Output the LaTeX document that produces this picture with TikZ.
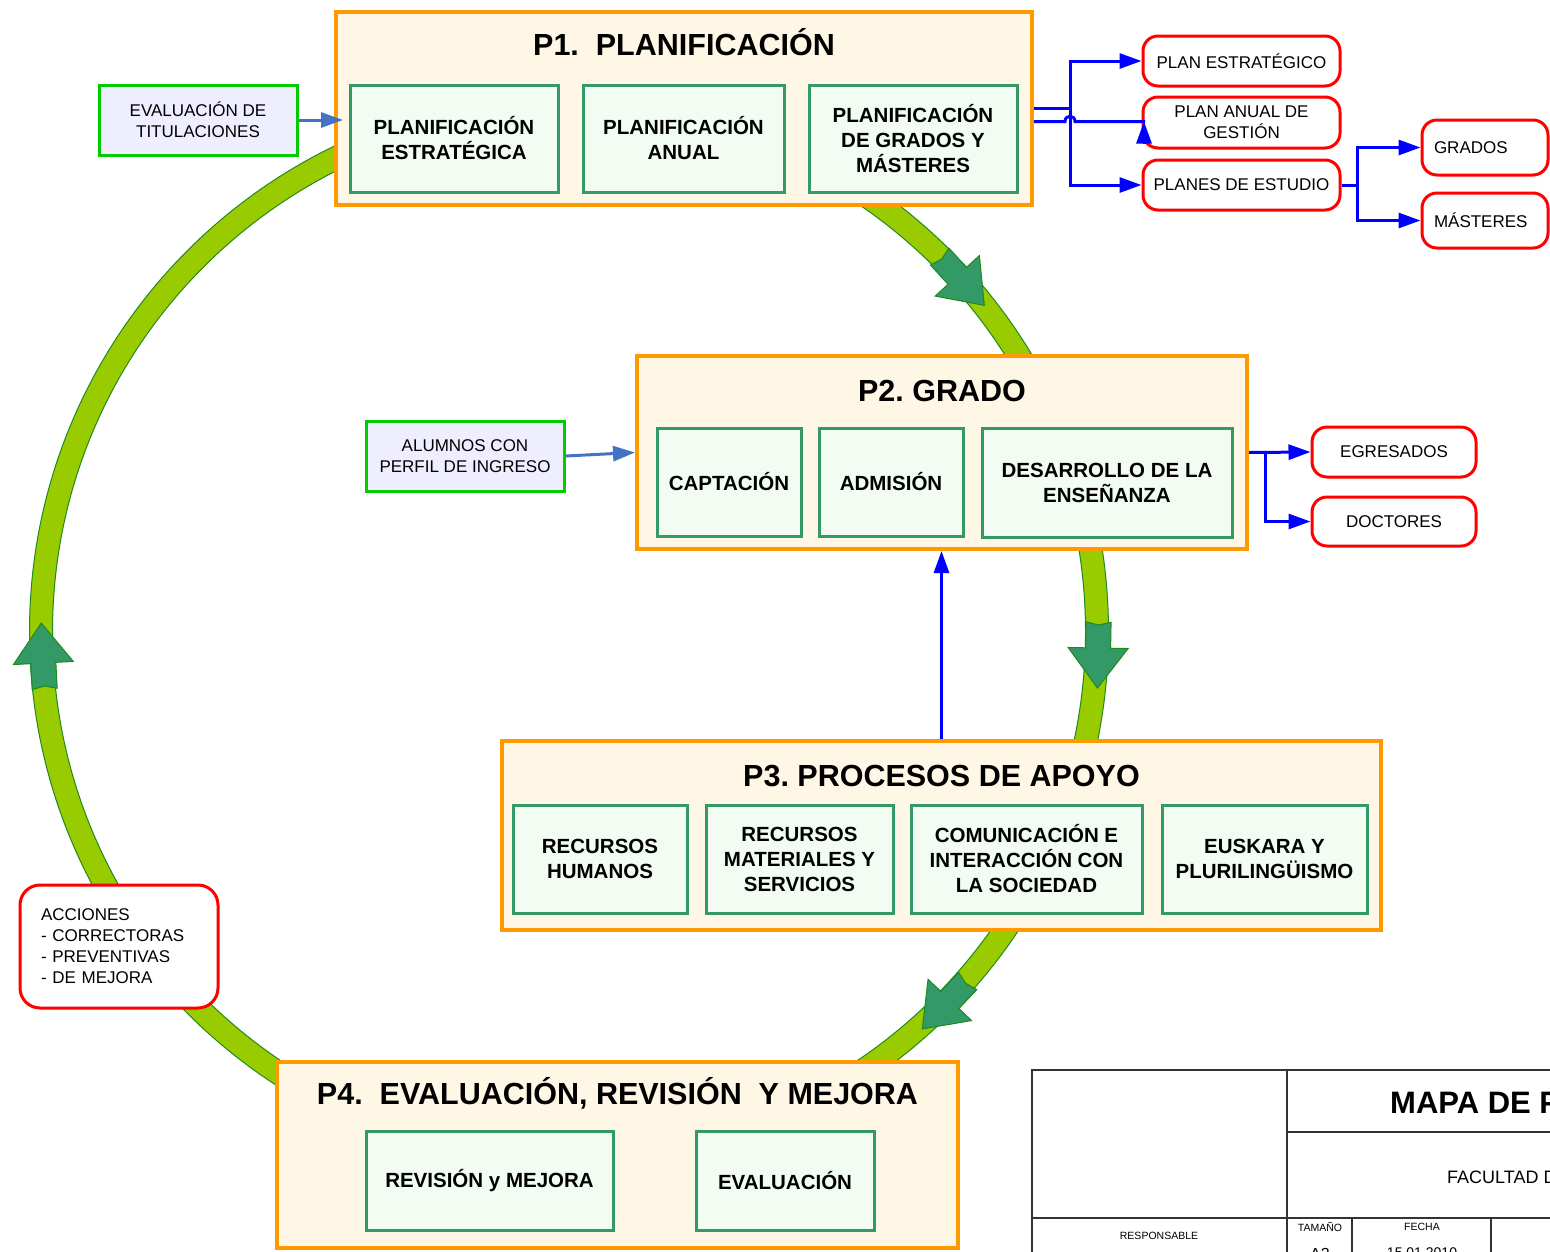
\documentclass[tikz,border=0pt]{standalone}
\usepackage{fontspec}
\setmainfont{Liberation Sans}
\usetikzlibrary{arrows.meta}
\AtBeginDocument{\frenchspacing}
\definecolor{orng}{HTML}{FF9900}
\definecolor{cream}{HTML}{FFF7E6}
\definecolor{subgreen}{HTML}{339966}
\definecolor{subfill}{HTML}{F3FCF3}
\definecolor{ringfill}{HTML}{99CC00}
\definecolor{ringline}{HTML}{1E8A1E}
\definecolor{arrfill}{HTML}{339966}
\definecolor{lav}{HTML}{EEEEFF}
\definecolor{inpgreen}{HTML}{00CC00}
\definecolor{softblue}{HTML}{4472C4}
\definecolor{pureblue}{HTML}{0000FF}
\definecolor{purered}{HTML}{FF0000}
\definecolor{tbline}{HTML}{333333}
\newcommand\ftitle{\fontsize{30.5}{36}\selectfont\bfseries}
\newcommand\finner{\fontsize{20.5}{25}\selectfont\bfseries}
\newcommand\fsmall{\fontsize{17}{21}\selectfont}
\tikzset{
  proc/.style={draw=orng, line width=4pt, fill=cream, inner sep=0pt},
  sub/.style={draw=subgreen, line width=3pt, fill=subfill, align=center, font=\finner, inner sep=0pt},
  inp/.style={draw=inpgreen, line width=3pt, fill=lav, align=center, font=\fsmall, inner sep=0pt},
  outb/.style={draw=purered, line width=3pt, fill=white, rounded corners=15pt, align=center, font=\fsmall, inner sep=0pt},
  ptitle/.style={font=\ftitle, inner sep=0pt},
  bl/.style={draw=pureblue, line width=3pt},
  blarrow/.style={bl, -{Triangle[length=22pt,width=15pt]}},
  sbarrow/.style={draw=softblue, line width=3pt, -{Triangle[length=22pt,width=15pt]}},
  tbl/.style={draw=tbline, line width=1.5pt},
  ringarr/.pic={
    \draw[draw=ringline, line width=1pt, fill=arrfill, line join=miter]
      (-33,-12.5) -- (-30,0) -- (-33,12.5) -- (-7,12.5) -- (-7,30) -- (33,0)
      -- (-7,-30) -- (-7,-12.5) -- cycle;
  }
}
\begin{document}
\begin{tikzpicture}[x=1pt, y=-1pt]
\useasboundingbox (0,0) rectangle (1550,1251);
\clip (0,0) rectangle (1550,1251);
\fill[white] (0,0) rectangle (1550,1251);

% ring
\draw[draw=ringline, line width=1pt, fill=ringfill, even odd rule]
  (569,632) circle[radius=539.5pt] (569,632) circle[radius=516.5pt];
\pic[rotate=-47.5] at (962,281) {ringarr};
\pic[rotate=-91] at (1098,655) {ringarr};
\pic[rotate=-133.5] at (945,1005) {ringarr};
\pic[rotate=-267] at (43,656) {ringarr};

% P1
\node[proc, minimum width=696pt, minimum height=193pt] (p1) at (684,108.5) {};
\node[ptitle] (p1t) at (684,42) {P1.\ \ PLANIFICACIÓN};
\node[sub, minimum width=208pt, minimum height=107pt] (pe) at (454,138.5) {PLANIFICACIÓN\\ESTRATÉGICA};
\node[sub, minimum width=201pt, minimum height=107pt] (pa) at (683.5,138.5) {PLANIFICACIÓN\\ANUAL};
\node[sub, minimum width=208pt, minimum height=107pt] (pg) at (913,138.5) {PLANIFICACIÓN\\DE GRADOS Y\\MÁSTERES};
\node[inp, minimum width=198pt, minimum height=70pt] (evt) at (198,120) {EVALUACIÓN DE\\TITULACIONES};

% outputs of P1
\node[outb, minimum width=197pt, minimum height=50pt] (oest) at (1241.5,61) {PLAN ESTRATÉGICO};
\node[outb, minimum width=197pt, minimum height=51pt] (oanu) at (1241.5,122.5) {PLAN ANUAL DE\\GESTIÓN};
\node[outb, minimum width=197pt, minimum height=50pt] (odes) at (1241.5,185) {PLANES DE ESTUDIO};
\node[outb, minimum width=126pt, minimum height=55pt, text width=102pt, align=left] (ogra) at (1485,147.5) {GRADOS};
\node[outb, minimum width=126pt, minimum height=55pt, text width=102pt, align=left] (omas) at (1485,220.5) {MÁSTERES};

% P2
\node[proc, minimum width=610pt, minimum height=193pt] (p2) at (942,452.5) {};
\node[ptitle] (p2t) at (942,391) {P2. GRADO};
\node[sub, minimum width=144pt, minimum height=108pt] (cap) at (729,482) {CAPTACIÓN};
\node[sub, minimum width=144pt, minimum height=108pt] (adm) at (891,482) {ADMISIÓN};
\node[sub, minimum width=250pt, minimum height=109pt] (des) at (1107,482.5) {DESARROLLO DE LA\\ENSEÑANZA};
\node[inp, minimum width=198pt, minimum height=70pt] (alu) at (465,456) {ALUMNOS CON\\PERFIL DE INGRESO};
\node[outb, minimum width=164pt, minimum height=50pt] (oegr) at (1394,452) {EGRESADOS};
\node[outb, minimum width=164pt, minimum height=49pt] (odoc) at (1394,521.5) {DOCTORES};

% P3
\node[proc, minimum width=879pt, minimum height=189pt] (p3) at (941.5,835.5) {};
\node[ptitle] (p3t) at (941.5,776) {P3. PROCESOS DE APOYO};
\node[sub, minimum width=174pt, minimum height=108pt] (rh) at (600,859) {RECURSOS\\HUMANOS};
\node[sub, minimum width=187pt, minimum height=108pt] (rm) at (799.5,859) {RECURSOS\\MATERIALES Y\\SERVICIOS};
\node[sub, minimum width=231pt, minimum height=108pt] (com) at (1026.5,859) {COMUNICACIÓN E\\INTERACCIÓN CON\\LA SOCIEDAD};
\node[sub, minimum width=205pt, minimum height=108pt] (eus) at (1264.5,859) {EUSKARA Y\\PLURILINGÜISMO};

% P4
\node[proc, minimum width=681pt, minimum height=186pt] (p4) at (617.5,1155) {};
\node[ptitle] (p4t) at (617.5,1093) {P4.\ \ EVALUACIÓN, REVISIÓN\ \ Y MEJORA};
\node[sub, minimum width=247pt, minimum height=99pt] (rev) at (489.5,1180.5) {REVISIÓN y MEJORA};
\node[sub, minimum width=178pt, minimum height=99pt] (eva) at (785,1180.5) {EVALUACIÓN};

% acciones
\node[outb, rounded corners=20pt, minimum width=198pt, minimum height=123pt, text width=156pt, align=left] (acc) at (119,946.5)
  {ACCIONES\\- CORRECTORAS\\- PREVENTIVAS\\- DE MEJORA};

% connectors
\draw[sbarrow] (evt.east) -- ([xshift=9pt]p1.west |- evt.east);
\draw[sbarrow] (alu.east) -- (p2.west);
\coordinate (j1) at (1070,108.5);
\draw[bl] (p1.east) -- (j1);
\draw[blarrow] (j1) |- (oest.west);
\draw[blarrow] (j1) |- (odes.west);
\draw[bl] ([yshift=-13pt]p1.east) -- (1065,121.5) .. controls (1065,114.5) and (1075,114.5) .. (1075,121.5) -- (1145,121.5);
\draw[blarrow] (1144,143.5) -- (1144,121.5);
\coordinate (j2) at (1357,185);
\draw[bl] (odes.east) -- (j2);
\draw[blarrow] (j2) |- (ogra.west);
\draw[blarrow] (j2) |- (omas.west);
\coordinate (j3) at (1265,452.5);
\draw[blarrow] (p2.east) -- (oegr.west);
\draw[blarrow] (j3) |- (odoc.west);
\draw[blarrow] (p3.north) -- (p3.north |- p2.south);

% title block
\draw[tbl] (1032,1270) -- (1032,1070) -- (1560,1070);
\draw[tbl] (1287,1070) -- (1287,1270);
\draw[tbl] (1287,1132) -- (1560,1132);
\draw[tbl] (1032,1218) -- (1560,1218);
\draw[tbl] (1352,1218) -- (1352,1270);
\draw[tbl] (1491,1218) -- (1491,1270);
\node[anchor=base west, inner sep=0pt, font=\fontsize{31}{36}\selectfont\bfseries] (mapa) at (1390,1113) {MAPA DE PROCESOS};
\node[anchor=base west, inner sep=0pt, font=\fontsize{18}{22}\selectfont] (fac) at (1447,1183) {FACULTAD DE};
\node[inner sep=0pt, font=\fontsize{10.5}{12}\selectfont] (resp) at (1159,1236) {RESPONSABLE};
\node[inner sep=0pt, font=\fontsize{10.5}{12}\selectfont] (tam) at (1320,1227) {TAMAÑO};
\node[inner sep=0pt, font=\fontsize{10.5}{12}\selectfont] (fec) at (1422,1227) {FECHA};
\node[anchor=base, inner sep=0pt, font=\fontsize{16}{19}\selectfont] (a3) at (1320,1259) {A3};
\node[anchor=base, inner sep=0pt, font=\fontsize{14}{17}\selectfont] (date) at (1422,1257) {15.01.2010};
\end{tikzpicture}
\end{document}
